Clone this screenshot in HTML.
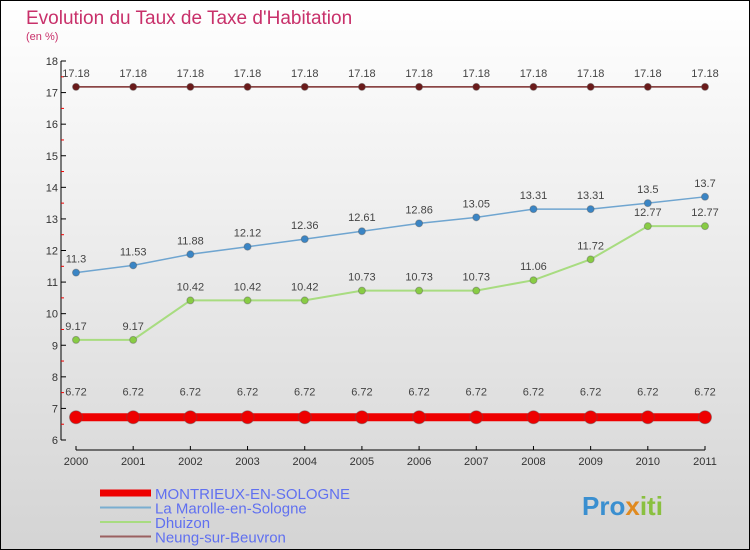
<!DOCTYPE html>
<html><head><meta charset="utf-8"><style>
html,body{margin:0;padding:0}
body{width:750px;height:550px;overflow:hidden;font-family:"Liberation Sans",sans-serif}
svg{display:block}
</style></head><body>
<svg id="c" width="750" height="550" xmlns="http://www.w3.org/2000/svg">
<defs><linearGradient id="bg" x1="0" y1="0" x2="0" y2="1"><stop offset="0" stop-color="#ffffff"/><stop offset="1" stop-color="#d4d4d4"/></linearGradient></defs>
<rect x="0.5" y="0.5" width="749" height="549" fill="url(#bg)" stroke="#000"/>
<text x="26" y="24" font-size="19" fill="#c8306a">Evolution du Taux de Taxe d'Habitation</text>
<text x="26" y="40" font-size="11" fill="#c8306a">(en %)</text>
<g id="axes"></g>
<g id="series"></g>
<g id="legend"></g>
<text x="582" y="515" font-size="26" font-weight="bold" fill="#3a8fd0">Pro<tspan fill="#e08a20">x</tspan><tspan fill="#8ac040">iti</tspan></text>
</svg>
<script>
const years=[2000,2001,2002,2003,2004,2005,2006,2007,2008,2009,2010,2011];
const yTicks=[6,7,8,9,10,11,12,13,14,15,16,17,18];
const montrieux=[6.72,6.72,6.72,6.72,6.72,6.72,6.72,6.72,6.72,6.72,6.72,6.72];
const marolle=[11.3,11.53,11.88,12.12,12.36,12.61,12.86,13.05,13.31,13.31,13.5,13.7];
const dhuizon=[9.17,9.17,10.42,10.42,10.42,10.73,10.73,10.73,11.06,11.72,12.77,12.77];
const neung=[17.18,17.18,17.18,17.18,17.18,17.18,17.18,17.18,17.18,17.18,17.18,17.18];
const NS="http://www.w3.org/2000/svg";
const xs=i=>76+i*(705-76)/(years.length-1);
const ys=v=>440-(v-6)*(440-61)/12;
function mk(t,a,p){const e=document.createElementNS(NS,t);for(const k in a)e.setAttribute(k,a[k]);p.appendChild(e);return e;}
const ax=document.getElementById('axes');
let l=mk('line',{x1:61,y1:61,x2:61,y2:440,stroke:'#000'},ax);


yTicks.forEach(v=>{
 mk('line',{x1:61,x2:66,y1:ys(v),y2:ys(v),stroke:'#000'},ax);
 if(v<18){mk('line',{x1:61,x2:64,y1:ys(v+0.5),y2:ys(v+0.5),stroke:'#e00'},ax);}
 const t=mk('text',{x:58,y:ys(v)+4,'font-size':11,fill:'#333','text-anchor':'end'},ax);t.textContent=v;
 
 
});
l=mk('line',{x1:76,y1:450,x2:705,y2:450,stroke:'#000'},ax);


years.forEach((y,i)=>{
 mk('line',{x1:xs(i),x2:xs(i),y1:446,y2:450,stroke:'#000'},ax);
 const t=mk('text',{x:xs(i),y:465,'font-size':11,fill:'#333','text-anchor':'middle'},ax);t.textContent=y;
 
 
});
const sg=document.getElementById('series');
function series(vals,name,color,w,r,dot,lab){
 const g=mk('g',{},sg);
 
 
 mk('polyline',{points:vals.map((v,i)=>xs(i)+','+ys(v)).join(' '),fill:'none',stroke:color,'stroke-width':w},g);
 vals.forEach((v,i)=>{
  const c=mk('circle',{cx:xs(i),cy:ys(v),r:r,fill:dot,stroke:'#555','stroke-opacity':0.4},g);
  
  
  const t=mk('text',{x:xs(i),y:ys(v)-lab,'font-size':11,fill:'#444','text-anchor':'middle'},g);
  t.textContent=String(v);
  
  
 });
}
series(neung,'neung-line','#7a2a2a',1.5,3.5,'#6a1a1a',10);
series(marolle,'marolle-line','#6fa5d0',1.5,3.5,'#3a85c5',10);
series(dhuizon,'dhuizon-line','#a8dc80',2,3.5,'#88cc44',10);
series(montrieux,'montrieux-line','#ee0000',8,6.5,'#ee0000',22);
const lg=document.getElementById('legend');
const leg=[['MONTRIEUX-EN-SOLOGNE','#ee0000',7],['La Marolle-en-Sologne','#7aaed0',2],['Dhuizon','#a8dc80',2],['Neung-sur-Beuvron','#9a6060',2]];
leg.forEach((e,i)=>{
 const y=493+i*14.5;
 const g=mk('g',{},lg);
 
 
 mk('line',{x1:100,x2:151,y1:y,y2:y,stroke:e[1],'stroke-width':e[2]},g);
 const t=mk('text',{x:155,y:y+6,'font-size':15,fill:'#6070f0'},g);t.textContent=e[0];
});
</script>
</body></html>
